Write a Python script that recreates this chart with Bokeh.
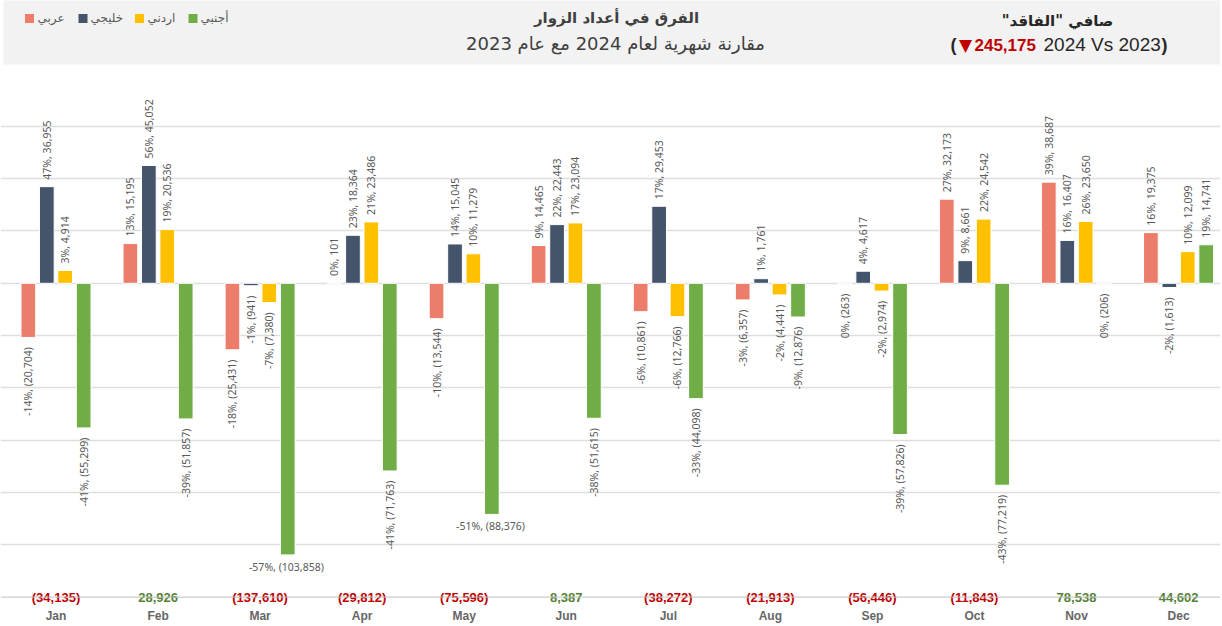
import math
from bokeh.plotting import figure
from bokeh.models import ColumnDataSource, Range1d, Grid, FixedTicker, Span
from bokeh.core.properties import value
from bokeh.transform import dodge
from bokeh.embed import file_html
from bokeh.resources import INLINE

# ---------------- data ----------------
months = ["Jan", "Feb", "Mar", "Apr", "May", "Jun", "Jul", "Aug", "Sep", "Oct", "Nov", "Dec"]
series_names = ["عربي", "خليجي", "اردني", "أجنبي"]
arab = [-20704, 15195, -25431, 101, -13544, 14465, -10861, -6357, -263, 32173, 38687, 19375]
gulf = [36955, 45052, -941, 18364, 15045, 22443, 29453, 1761, 4617, 8661, 16407, -1613]
jordan = [4914, 20536, -7380, 23486, 11279, 23094, -12766, -4441, -2974, 24542, 23650, 12099]
foreign = [-55299, -51857, -103858, -71763, -88376, -51615, -44098, -12876, -57826, -77219, -206, 14741]
arab_pct = [-14, 13, -18, 0, -10, 9, -6, -3, 0, 27, 39, 16]
gulf_pct = [47, 56, -1, 23, 14, 22, 17, 1, 4, 9, 16, -2]
jordan_pct = [3, 19, -7, 21, 10, 17, -6, -2, -2, 22, 26, 10]
foreign_pct = [-41, -39, -57, -41, -51, -38, -33, -9, -39, -43, 0, 19]
net_totals = [-34135, 28926, -137610, -29812, -75596, 8387, -38272, -21913, -56446, -11843, 78538, 44602]
net_loss = 245175
grid_ticks = [-100000, -80000, -60000, -40000, -20000, 0, 20000, 40000, 60000]
axis_floor = -120000

title_text = "الفرق في أعداد الزوار"
subtitle_text = "مقارنة شهرية لعام 2024 مع عام 2023"
net_title = "صافي \"الفاقد\"\u200F"
compare_text = "2024 Vs 2023"

# ---------------- layout ----------------
W, H = 1220, 624
PX_PER_CAT = 102.05
X0 = 0.5 - 55.5 / PX_PER_CAT
ZERO_PY = 282.8
VAL_PER_PX = 382.4
y_top = ZERO_PY * VAL_PER_PX
y_bot = -(H - ZERO_PY) * VAL_PER_PX


def sx(ref_x):
    return X0 + ref_x / PX_PER_CAT


def sy(ref_y):
    return (ZERO_PY - ref_y) * VAL_PER_PX


def fmt(v):
    return f"{v:,}" if v >= 0 else f"({-v:,})"


colors = ["#ED7D6B", "#44546A", "#FFC000", "#70AD47"]
offsets = [-0.271, -0.090, 0.090, 0.271]
bar_w = 0.144
LABEL_FONT = value("Noto Sans")
AR_FONT = value("DejaVu Sans")
LAT_FONT = value("Liberation Sans")

p = figure(width=W, height=H, x_range=Range1d(X0, X0 + W / PX_PER_CAT),
           y_range=Range1d(y_bot, y_top), output_backend="svg",
           toolbar_location=None, x_axis_location=None, y_axis_location=None,
           min_border=0, outline_line_color=None,
           background_fill_color="white", border_fill_color="white")
p.grid.visible = False
p.add_layout(Grid(dimension=1, ticker=FixedTicker(ticks=grid_ticks),
                  grid_line_color="#dedede", grid_line_width=1.5))
p.add_layout(Span(location=axis_floor, dimension="width",
                  line_color="#bfbfbf", line_width=1))

# header band
p.quad(left=sx(3), right=sx(1240), top=y_top + 10000, bottom=sy(64),
       fill_color="#f2f2f2", line_color=None)

xs = [i + 0.5 for i in range(len(months))]
src = ColumnDataSource(dict(x=xs, s0=arab, s1=gulf, s2=jordan, s3=foreign))
all_vals = [arab, gulf, jordan, foreign]
all_pcts = [arab_pct, gulf_pct, jordan_pct, foreign_pct]

for k in range(4):
    p.vbar(x=dodge("x", offsets[k], range=p.x_range), top=f"s{k}", bottom=0,
           width=bar_w, fill_color=colors[k], line_color="white", line_width=1,
           source=src)

pos = dict(x=[], y=[], t=[])
neg = dict(x=[], y=[], t=[])
hor = dict(x=[], y=[], t=[])
for k in range(4):
    for i in range(len(months)):
        v = all_vals[k][i]
        t = f"{all_pcts[k][i]}%,  {fmt(v)}"
        target = pos if v >= 0 else (hor if v < -80000 else neg)
        target["x"].append(xs[i] + offsets[k])
        target["y"].append(v)
        target["t"].append(t)

lbl_style = dict(text_font=LABEL_FONT, text_font_size="10.5px", text_color="#595959")
p.text(x="x", y="y", text="t", source=ColumnDataSource(pos), angle=math.pi / 2,
       text_align="left", text_baseline="middle", y_offset=-7, **lbl_style)
p.text(x="x", y="y", text="t", source=ColumnDataSource(neg), angle=math.pi / 2,
       text_align="right", text_baseline="middle", y_offset=7, **lbl_style)
p.text(x="x", y="y", text="t", source=ColumnDataSource(hor), angle=0,
       text_align="center", text_baseline="top", y_offset=5, **lbl_style)

# net totals and month labels
p.text(x=xs, y=[axis_floor] * 12, text=[fmt(v) for v in net_totals],
       text_color=["#C00000" if v < 0 else "#548235" for v in net_totals],
       text_font=LAT_FONT, text_font_style="bold", text_font_size="13px",
       text_align="center", text_baseline="middle")
p.text(x=xs, y=[sy(615)] * 12, text=months, text_color="#666666",
       text_font=LAT_FONT, text_font_style="bold", text_font_size="12px",
       text_align="center", text_baseline="middle")

# legend
leg_sq_x = [29, 82.5, 139, 192.5]
leg_tx_x = [37, 90, 147, 200]
p.rect(x=[sx(v) for v in leg_sq_x], y=[sy(18)] * 4, width=9, height=9,
       width_units="screen", height_units="screen", fill_color=colors, line_color=None)
p.text(x=[sx(v) for v in leg_tx_x], y=[sy(17)] * 4, text=series_names,
       text_font=AR_FONT, text_font_size="12px", text_color="#595959",
       text_align="left", text_baseline="middle")

# titles
p.text(x=[sx(616)], y=[sy(17)], text=[title_text], text_font=AR_FONT,
       text_font_style="bold", text_font_size="15px", text_color="#404040",
       text_align="center", text_baseline="middle")
p.text(x=[sx(615)], y=[sy(43)], text=[subtitle_text], text_font=AR_FONT,
       text_font_size="18px", text_color="#404040",
       text_align="center", text_baseline="middle")
p.text(x=[sx(1057)], y=[sy(20)], text=[net_title], text_font=AR_FONT,
       text_font_style="bold", text_font_size="15px", text_color="#262626",
       text_align="center", text_baseline="middle")

ly = sy(44)
p.text(x=[sx(956)], y=[ly], text=["("], text_font=LAT_FONT, text_font_style="bold",
       text_font_size="18px", text_color="#262626", text_align="right", text_baseline="middle")
p.text(x=[sx(965)], y=[ly], text=["\u25BC"], text_font=value("DejaVu Sans"),
       text_font_size="17px", text_color="#C00000", text_align="center", text_baseline="middle")
p.text(x=[sx(974)], y=[ly], text=[f"{net_loss:,}"], text_font=LAT_FONT, text_font_style="bold",
       text_font_size="17px", text_color="#C00000", text_align="left", text_baseline="middle")
p.text(x=[sx(1043)], y=[ly], text=[compare_text], text_font=LAT_FONT,
       text_font_size="19px", text_color="#262626", text_align="left", text_baseline="middle")
p.text(x=[sx(1161)], y=[ly], text=[")"], text_font=LAT_FONT, text_font_style="bold",
       text_font_size="18px", text_color="#262626", text_align="left", text_baseline="middle")

open("out.html", "w").write(file_html(p, INLINE))
